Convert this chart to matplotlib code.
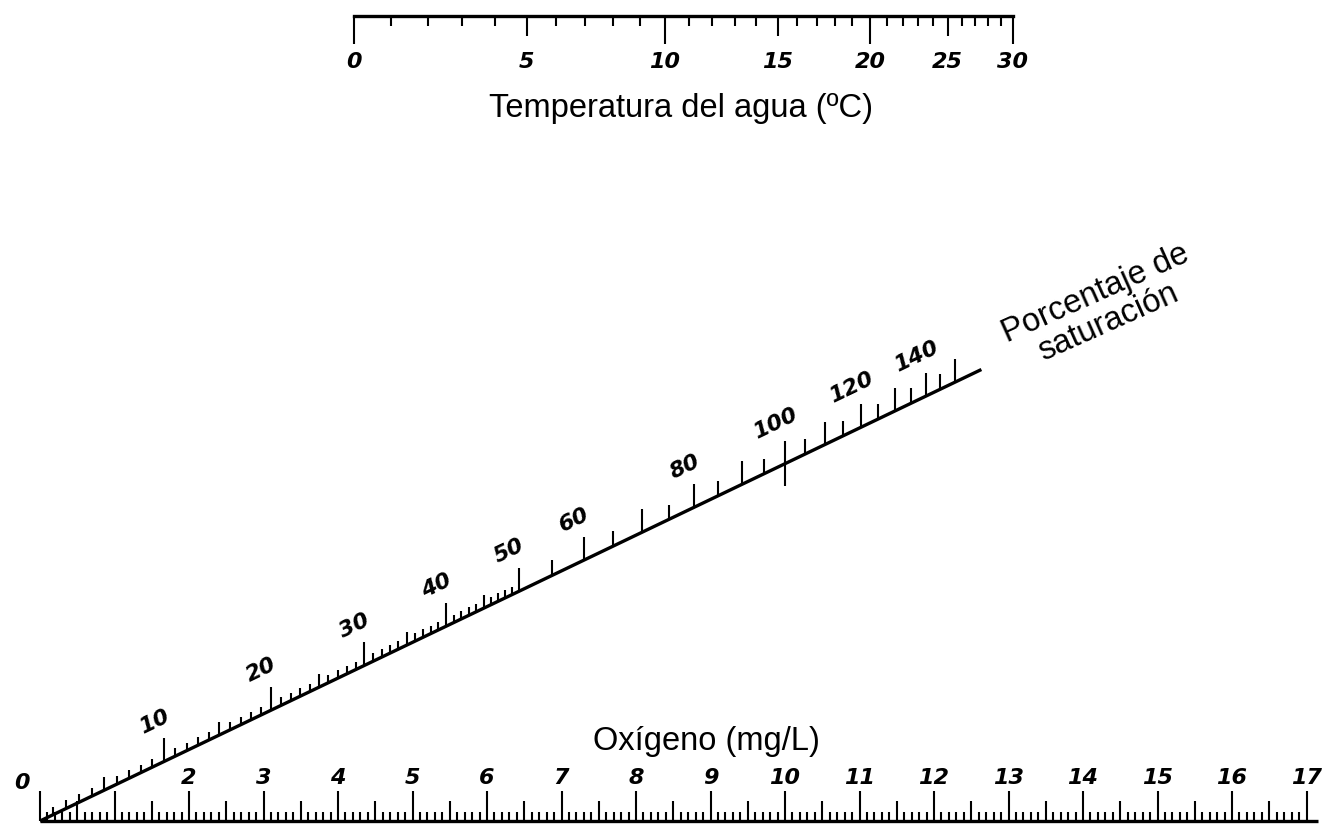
import numpy as np
import matplotlib.pyplot as plt

# dissolved oxygen at saturation (mg/L, fresh water, sea level) for 0..30 degC
temp_c = list(range(0, 31))
o2_sat = [14.62, 14.22, 13.83, 13.46, 13.11, 12.77, 12.45, 12.14, 11.84, 11.56,
          11.29, 11.03, 10.78, 10.54, 10.31, 10.08, 9.87, 9.66, 9.47, 9.28,
          9.09, 8.91, 8.74, 8.58, 8.42, 8.26, 8.11, 7.97, 7.83, 7.69, 7.56]
temp_labels = [0, 5, 10, 15, 20, 25, 30]

oxy_max = 17
oxy_labels = [2, 3, 4, 5, 6, 7, 8, 9, 10, 11, 12, 13, 14, 15, 16, 17]

pct_labels = [10, 20, 30, 40, 50, 60, 80, 100, 120, 140]
pct_fine_end = 50     # 1 % divisions up to here, 5 % after
pct_last_tick = 150
pct_line_end = 160

# nomogram geometry (bottom scale in mg/L, top scale sits at y = 1)
top_ratio = 1.2528    # length of 1 mg/L on the top scale vs the bottom one
top_offset = 22.53    # where a saturation of 0 mg/L would sit on the top scale

# pixel size of one unit, used for tick lengths
px_x = 74.5
px_y = 805.0

def top_x(sat):
    return top_offset - top_ratio * np.asarray(sat)

def pct_xy(p):
    h = np.asarray(p, dtype=float) / (np.asarray(p) + 100 * top_ratio)
    return h * top_offset, h

tick_kw = dict(color='black', lw=1.5)
num_font = dict(fontstyle='italic', fontweight='bold', fontsize=16, family='DejaVu Sans')
title_font = dict(fontsize=23.5, family='Liberation Sans')

fig = plt.figure(figsize=(13.29, 8.29), dpi=100)
ax = fig.add_axes([0, 0, 1, 1])
ax.set_xlim(-40 / px_x, 1289 / px_x)
ax.set_ylim(-7 / px_y, 822 / px_y)
ax.axis('off')

# ---- bottom scale: oxygen (mg/L)
ax.plot([0, oxy_max + 0.15], [0, 0], color='black', lw=2.4, solid_capstyle='butt')
for v in np.round(np.arange(0, oxy_max + 0.001, 0.1), 1):
    if abs(v - round(v)) < 1e-6:
        ln = 30
    elif abs(v * 2 - round(v * 2)) < 1e-6:
        ln = 20
    else:
        ln = 9
    ax.vlines(v, 0, ln / px_y, **tick_kw)
for v in oxy_labels:
    ax.text(v, 44 / px_y, str(v), ha='center', va='center', **num_font)
ax.text(-0.24, 39 / px_y, '0', ha='center', va='center', **num_font)
ax.text(8.95, 80 / px_y, 'Oxígeno (mg/L)', ha='center', va='center', **title_font)

# ---- top scale: water temperature
xt = top_x(o2_sat)
ax.plot([xt[0], xt[-1]], [1, 1], color='black', lw=2.4, solid_capstyle='projecting')
for t, x in zip(temp_c, xt):
    if t % 10 == 0:
        ln = 28
    elif t % 5 == 0:
        ln = 20
    else:
        ln = 10
    ax.vlines(x, 1 - ln / px_y, 1, **tick_kw)
for t in temp_labels:
    ax.text(xt[t], 1 - 45 / px_y, str(t), ha='center', va='center', **num_font)
ax.text(8.6, 713 / px_y, 'Temperatura del agua (ºC)', ha='center', va='center', **title_font)

# ---- slanted scale: percent saturation
x0, y0 = pct_xy(0)
x1, y1 = pct_xy(pct_line_end)
ax.plot([x0, x1], [y0, y1], color='black', lw=2.4, solid_capstyle='butt')
angle = np.degrees(np.arctan2(px_y, px_x * top_offset))

pcts = list(range(1, pct_fine_end + 1)) + list(range(pct_fine_end + 5, pct_last_tick + 1, 5))
for p in pcts:
    x, y = pct_xy(p)
    if p % 10 == 0:
        ln = 23
    elif p % 5 == 0:
        ln = 13 if p <= pct_fine_end else 15
    else:
        ln = 8
    lo = y - 22 / px_y if p == 100 else y
    ax.vlines(x, lo, y + ln / px_y, **tick_kw)
    if p in pct_labels:
        ax.annotate(str(p), (x, y + ln / px_y), xytext=(-7, 13), textcoords='offset points',
                    ha='center', va='center', rotation=angle, **num_font)

ax.text(14.25, 514 / px_y, 'Porcentaje de\nsaturación', ha='center', va='center',
        rotation=angle - 1.5, multialignment='center', linespacing=1.0, **title_font)

fig.savefig('out.png', dpi=100)
